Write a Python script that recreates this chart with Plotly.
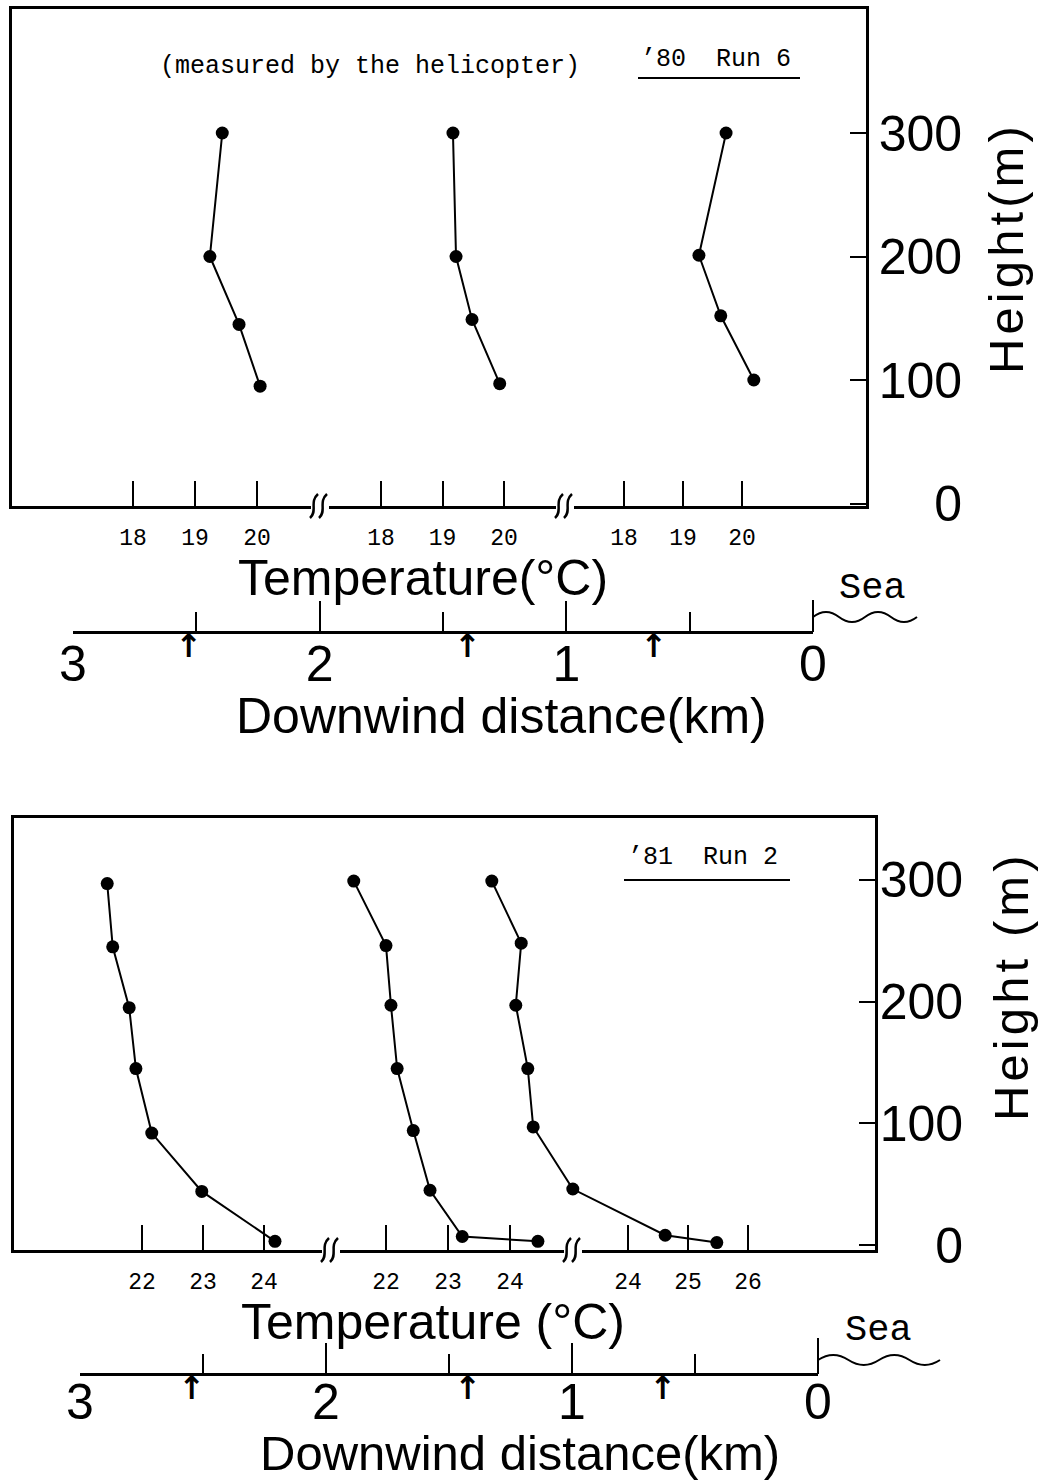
import plotly.graph_objects as go

W, H = 1039, 1483

# ---------------- data ----------------
# Panel A: '80 Run 6 (helicopter) : temperature (deg C) vs height (m)
a_h1 = [300, 200, 145, 95]
a_t1 = [19.44, 19.24, 19.71, 20.05]
a_h2 = [300, 200, 149, 97]
a_t2 = [19.17, 19.22, 19.48, 19.93]
a_h3 = [300, 201, 152, 100]
a_t3 = [19.73, 19.27, 19.64, 20.20]
a_ticks = [18, 19, 20]
a_dist_arrows = [2.53, 1.40, 0.645]

# Panel B: '81 Run 2
b_h1 = [297, 245, 195, 145, 92, 44, 3]
b_t1 = [21.43, 21.52, 21.79, 21.90, 22.16, 22.98, 24.18]
b_h2 = [299, 246, 197, 145, 94, 45, 7, 3]
b_t2 = [21.48, 22.00, 22.08, 22.18, 22.44, 22.71, 23.23, 24.45]
b_h3 = [299, 248, 197, 145, 97, 46, 8, 2]
b_t3 = [21.73, 22.22, 22.13, 22.33, 22.42, 23.08, 24.62, 25.48]
b_ticks1 = [22, 23, 24]
b_ticks3 = [24, 25, 26]
b_dist_arrows = [2.545, 1.423, 0.63]

height_ticks = [0, 100, 200, 300]
height_text = ["\u00a0\u00a0\u00a0\u00a00", "100", "200", "300"]
dist_ticks = [0, 1, 2, 3]
dist_minor = [0.5, 1.5, 2.5]

# ---------------- helpers ----------------
def px(x):
    return x / W

def py(y):
    return 1 - y / H

def seg_range(L, R, p0, v0, s):
    return [v0 - (p0 - L) / s, v0 + (R - p0) / s]

BIG = "Liberation Sans"
MONO = "Liberation Mono"

fig = go.Figure()
layout = dict(
    template="none",
    width=W, height=H, autosize=False,
    margin=dict(l=0, r=0, t=0, b=0, pad=0),
    paper_bgcolor="white", plot_bgcolor="rgba(0,0,0,0)",
    showlegend=False,
)

def seg_axis(xn, yn, L, R, p0, v0, s, ticks, frame=False, overlay=None):
    ax = dict(
        domain=[px(L), px(R)], range=seg_range(L, R, p0, v0, s),
        anchor="y" + yn, side="bottom",
        ticks="inside", ticklen=25, tickwidth=2,
        tickcolor="black", tickvals=ticks,
        tickfont=dict(family=MONO, size=23, color="black"),
        showgrid=False, zeroline=False, automargin=False,
    )
    if frame:
        ax.update(showline=True, mirror=True, linecolor="black", linewidth=2.5,
                  ticklabelstandoff=9)
    else:
        ax.update(showline=False, overlaying=overlay, ticklabelstandoff=15)
    layout["xaxis" + xn] = ax

def height_axis(yn, xn, T, B, y0pix, spm, standoff):
    layout["yaxis" + yn] = dict(
        domain=[py(B), py(T)],
        range=[(y0pix - B) / spm, (y0pix - T) / spm],
        anchor="x" + xn, side="right",
        showline=True, mirror=True, linecolor="black", linewidth=2.5,
        ticks="inside", ticklen=16, tickwidth=2, tickcolor="black",
        tickvals=height_ticks, ticktext=height_text,
        tickfont=dict(family=BIG, size=50, color="black"),
        ticklabelstandoff=standoff,
        showgrid=False, zeroline=False, automargin=False,
    )

def dist_axis(xn, yn, L, R, yline, standoff):
    layout["xaxis" + xn] = dict(
        domain=[px(L), px(R)], range=[3, 0], anchor="free", position=py(yline),
        side="bottom",
        showline=True, linecolor="black", linewidth=2.5,
        ticks="inside", ticklen=30, tickwidth=2, tickcolor="black",
        tickvals=dist_ticks,
        minor=dict(tickvals=dist_minor, ticks="inside", ticklen=19,
                   tickwidth=2, tickcolor="black"),
        tickfont=dict(family=BIG, size=50, color="black"),
        ticklabelstandoff=standoff,
        showgrid=False, zeroline=False, automargin=False,
    )
    layout["yaxis" + yn] = dict(
        domain=[py(yline + 30), py(yline)], range=[0, 1], anchor="x" + xn,
        visible=False, automargin=False,
    )

# Panel A axes
aL, aR, aT, aB = 12, 866, 9, 506
seg_axis("", "", aL, aR, 133, 18, 62, a_ticks, frame=True)
seg_axis("2", "", aL, aR, 381, 18, 61.5, a_ticks, overlay="x")
seg_axis("3", "", aL, aR, 624, 18, 59, a_ticks, overlay="x")
height_axis("", "", aT, aB, 503.5, 1.235, 0)

# Panel B axes
bL, bR, bT, bB = 14, 875, 818, 1250
seg_axis("4", "2", bL, bR, 142, 22, 61, b_ticks1, frame=True)
seg_axis("5", "2", bL, bR, 386, 22, 62, b_ticks1, overlay="x4")
seg_axis("6", "2", bL, bR, 628, 24, 60, b_ticks3, overlay="x4")
height_axis("2", "4", bT, bB, 1245, 1.217, -8)

# distance axes
dist_axis("7", "3", 73, 813, 632, -13)
dist_axis("8", "4", 80, 818, 1374, -17)

line_style = dict(color="black", width=2)
mk = dict(color="black", size=13)

def prof(t, h, xa, ya):
    fig.add_trace(go.Scatter(x=t, y=h, xaxis=xa, yaxis=ya, mode="lines+markers",
                             line=line_style, marker=mk, cliponaxis=False,
                             hoverinfo="skip"))

prof(a_t1, a_h1, "x", "y")
prof(a_t2, a_h2, "x2", "y")
prof(a_t3, a_h3, "x3", "y")
prof(b_t1, b_h1, "x4", "y2")
prof(b_t2, b_h2, "x5", "y2")
prof(b_t3, b_h3, "x6", "y2")

# arrows below the distance axes (sampling positions)
for d, xa, ya in [(a_dist_arrows, "x7", "y3"), (b_dist_arrows, "x8", "y4")]:
    fig.add_trace(go.Scatter(x=d, y=[0.45] * len(d), xaxis=xa, yaxis=ya,
                             mode="text", text=["<b>\u2191</b>"] * len(d),
                             textfont=dict(family="DejaVu Sans", size=32, color="black"),
                             cliponaxis=False, hoverinfo="skip"))

annotations = []

def text(x, y, s, size, family=BIG, angle=0):
    annotations.append(dict(x=px(x), y=py(y), xref="paper", yref="paper",
                            text=s, showarrow=False, textangle=angle,
                            xanchor="center", yanchor="middle",
                            font=dict(family=family, size=size, color="black")))

text(370, 66, "(measured by the helicopter)", 25, MONO)
text(716, 60, "\u201980\u00a0\u00a0Run\u00a06", 25, MONO)
text(703, 857, "\u201981\u00a0\u00a0Run\u00a02", 25, MONO)
text(423, 578, "Temperature(\u00b0C)", 50)
text(433, 1322, "Temperature (\u00b0C)", 50)
text(501, 716, "Downwind distance(km)", 50)
text(520, 1453, "Downwind distance(km)", 49)
hs = "\u200a"
text(1006, 250, hs.join("Height(m)"), 49, angle=-90)
text(1011, 988, hs.join("Height (m)"), 49, angle=-90)
text(872, 588, "Sea", 37, MONO)
text(878, 1330, "Sea", 37, MONO)

shapes = []

def pline(x0, y0, x1, y1, w=2):
    shapes.append(dict(type="line", xref="paper", yref="paper",
                       x0=px(x0), y0=py(y0), x1=px(x1), y1=py(y1),
                       line=dict(color="black", width=w)))

pline(638, 78, 800, 78)
pline(624, 880, 790, 880)

def wave(x0, y0, length, amp=5, n=4):
    step = length / n
    d = f"M {px(x0)},{py(y0)}"
    for i in range(n):
        xm = x0 + step * (i + 0.5)
        xe = x0 + step * (i + 1)
        sgn = -1 if i % 2 == 0 else 1
        d += f" Q {px(xm)},{py(y0 + sgn * amp * 2)} {px(xe)},{py(y0)}"
    shapes.append(dict(type="path", xref="paper", yref="paper", path=d,
                       line=dict(color="black", width=2)))

# sea waves
wave(813, 617, 104)
pline(813, 600, 813, 632)
wave(818, 1360, 122)
pline(818, 1338, 818, 1374)

def squiggle(cx, cy):
    shapes.append(dict(type="rect", xref="paper", yref="paper",
                       x0=px(cx - 9), x1=px(cx + 9), y0=py(cy - 3), y1=py(cy + 3),
                       line=dict(width=0), fillcolor="white"))
    for dx in (-5, 4):
        x = cx + dx
        d = (f"M {px(x - 5)},{py(cy + 12)} C {px(x + 3)},{py(cy + 5)} "
             f"{px(x - 6)},{py(cy - 4)} {px(x + 3)},{py(cy - 12)}")
        shapes.append(dict(type="path", xref="paper", yref="paper", path=d,
                           line=dict(color="black", width=2.5)))

squiggle(320, 506)
squiggle(565, 506)
squiggle(331, 1250)
squiggle(573, 1250)

layout["annotations"] = annotations
layout["shapes"] = shapes
fig.update_layout(**layout)
fig.write_html("out.html")
